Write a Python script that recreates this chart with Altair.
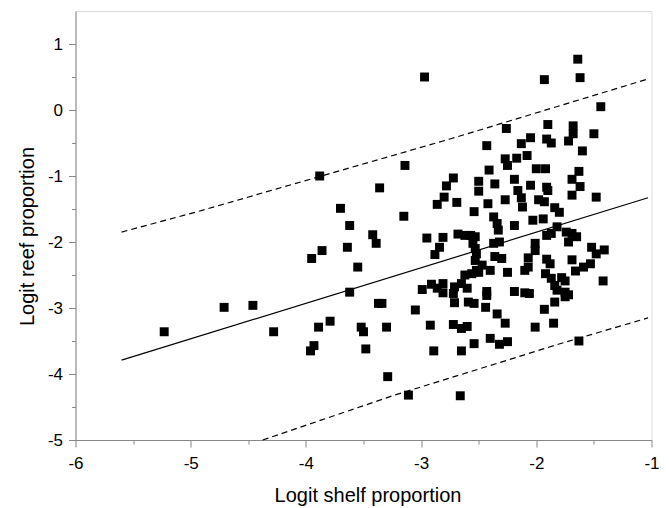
import altair as alt
import pandas as pd

# Scatter points (logit shelf proportion, logit reef proportion)
shelf = [
    -5.23, -4.71, -4.46, -4.28, -3.95, -3.86, -3.55, -3.62, -3.89, -3.79, -3.93, -3.96,
    -3.52, -3.50, -3.48, -3.37, -3.34, -3.30, -3.29, -3.11, -3.05, -2.99, -2.92, -2.89,
    -3.88, -3.36, -3.14, -3.70, -3.62, -3.15, -3.42, -3.39, -3.64, -2.95, -2.81, -2.84,
    -2.78, -2.80, -2.86, -2.97,
    -1.64, -1.62, -1.93, -1.44,
    -2.72, -2.50, -2.50, -2.69, -2.54, -2.68, -2.62, -2.57, -2.53, -2.55, -2.53, -2.52, -2.88,
    -2.26, -1.90, -2.43, -2.13, -2.05, -1.91, -1.87, -2.27, -2.25, -2.17, -2.08, -2.00, -1.92,
    -2.41, -2.36, -2.19, -2.16, -2.13, -2.05, -1.91, -1.90, -2.42, -2.27, -2.12, -1.98, -1.93,
    -1.84, -1.80, -2.37, -2.34, -2.33, -2.19, -2.03, -1.94, -1.91, -1.87, -1.82, -2.37, -2.32,
    -2.01, -2.01, -2.36, -2.30, -2.07, -1.91,
    -1.68, -1.68, -1.50, -1.72, -1.60, -1.63, -1.69, -1.62, -1.69, -1.48, -1.74, -1.69, -1.65,
    -1.72, -1.52, -1.48, -1.41, -1.69,
    -2.91, -2.86, -2.81, -2.81, -2.72, -2.71, -2.65, -2.62, -2.60, -2.56, -2.52, -2.53, -2.71,
    -2.59, -2.54, -2.72, -2.65, -2.60, -2.54, -2.65, -2.66,
    -2.47, -2.40, -2.50, -2.25, -2.07, -2.10, -1.88, -1.92, -1.87, -1.84, -1.82, -2.43, -2.43,
    -2.19, -2.10, -2.06, -2.44, -2.34, -2.27, -2.01, -1.93, -1.84, -1.85, -2.40, -2.32, -2.25,
    -1.59, -1.53, -1.66, -1.78, -1.75, -1.75, -1.72, -1.75, -1.42, -1.63,
]
reef = [
    -3.36, -2.99, -2.96, -3.36, -2.25, -2.13, -2.38, -2.76, -3.29, -3.20, -3.57, -3.65,
    -3.29, -3.36, -3.62, -2.93, -2.93, -3.29, -4.04, -4.32, -3.03, -2.72, -3.26, -3.65,
    -1.00, -1.18, -0.84, -1.49, -1.75, -1.61, -1.89, -2.02, -2.08, -1.94, -1.93, -2.08,
    -1.15, -1.32, -1.43, 0.50,
    0.77, 0.49, 0.46, 0.05,
    -1.03, -1.08, -1.23, -1.40, -1.54, -1.88, -1.90, -1.90, -1.92, -2.02, -2.10, -2.18, -2.19,
    -0.28, -0.22, -0.54, -0.51, -0.42, -0.44, -0.50, -0.74, -0.84, -0.73, -0.69, -0.89, -0.89,
    -0.91, -1.12, -1.05, -1.22, -1.33, -1.14, -1.17, -1.22, -1.42, -1.36, -1.47, -1.36, -1.39,
    -1.48, -1.55, -1.62, -1.72, -1.82, -1.75, -1.67, -1.65, -1.90, -1.87, -1.77, -2.02, -2.00,
    -2.02, -2.13, -2.22, -2.25, -2.24, -2.26,
    -0.24, -0.36, -0.36, -0.47, -0.62, -0.93, -1.05, -1.16, -1.29, -1.32, -1.85, -1.87, -1.92,
    -2.00, -2.08, -2.18, -2.12, -2.27,
    -2.64, -2.70, -2.63, -2.77, -2.78, -2.68, -2.63, -2.50, -2.70, -2.48, -2.43, -2.28, -2.92,
    -2.91, -2.93, -3.25, -3.31, -3.28, -3.54, -3.65, -4.33,
    -2.35, -2.43, -2.46, -2.46, -2.38, -2.43, -2.33, -2.48, -2.55, -2.66, -2.73, -2.75, -2.81,
    -2.75, -2.77, -2.78, -2.99, -3.09, -3.23, -3.29, -3.02, -2.91, -3.23, -3.46, -3.55, -3.51,
    -2.38, -2.33, -2.44, -2.54, -2.59, -2.76, -2.80, -2.83, -2.59, -3.50,
]

# Regression line and prediction band
fit_x = [-5.6, -1.03]
fit_y = [-3.79, -1.33]
upper_x = [-5.6, -4.92, -2.75, -1.03]
upper_y = [-1.85, -1.53, -0.44, 0.47]
lower_x = [-4.375, -3.23, -2.49, -1.81, -1.03]
lower_y = [-5.0, -4.32, -3.92, -3.55, -3.15]

x_ticks = [-6, -5.5, -5, -4.5, -4, -3.5, -3, -2.5, -2, -1.5, -1]
y_ticks = [-5, -4.5, -4, -3.5, -3, -2.5, -2, -1.5, -1, -0.5, 0, 0.5, 1]

pts = pd.DataFrame({"x": shelf, "y": reef})
fit = pd.DataFrame({"x": fit_x, "y": fit_y})
band = pd.DataFrame({
    "x": upper_x + lower_x,
    "y": upper_y + lower_y,
    "s": ["upper"] * len(upper_x) + ["lower"] * len(lower_x),
})

FONT = "Liberation Sans"
tick_size = {"condition": {"test": "datum.value % 1 !== 0", "value": 4}, "value": 7}
label_expr = "datum.value % 1 === 0 ? '' + datum.value : ''"

xaxis = alt.Axis(
    title="Logit shelf proportion", values=x_ticks, labelExpr=label_expr,
    tickSize=tick_size, grid=False, labelPadding=8, labelFontSize=17,
    titleFontSize=20, titleFontWeight="normal", titleBaseline="alphabetic",
    titleY=61.5, titleX=292, labelFlush=False,
)
yaxis = alt.Axis(
    title="Logit reef proportion", values=y_ticks, labelExpr=label_expr,
    tickSize=tick_size, grid=False, labelPadding=6, labelFontSize=17,
    titleFontSize=20, titleFontWeight="normal", titleBaseline="alphabetic",
    titleX=-42, titleY=225, titleAngle=270, labelFlush=False,
)
xs = alt.Scale(domain=[-6, -1], nice=False, zero=False)
ys = alt.Scale(domain=[-5, 1.5], nice=False, zero=False)

points = alt.Chart(pts).mark_point(shape="square", filled=True, color="black", size=80, opacity=1).encode(
    x=alt.X("x:Q", scale=xs, axis=xaxis),
    y=alt.Y("y:Q", scale=ys, axis=yaxis),
)
fit_line = alt.Chart(fit).mark_line(color="black", strokeWidth=1.2).encode(
    x=alt.X("x:Q", scale=xs, axis=xaxis),
    y=alt.Y("y:Q", scale=ys, axis=yaxis),
)
band_lines = alt.Chart(band).mark_line(color="black", strokeWidth=1.2, strokeDash=[6, 4]).encode(
    x=alt.X("x:Q", scale=xs, axis=xaxis),
    y=alt.Y("y:Q", scale=ys, axis=yaxis),
    detail="s:N",
)

chart = alt.layer(band_lines, fit_line, points).properties(
    width=576, height=429,
    autosize=alt.AutoSizeParams(type="none"),
    padding={"left": 75.5, "top": 11, "right": 17.5, "bottom": 68},
).configure_view(stroke=None).configure_axis(
    labelFont=FONT, titleFont=FONT, labelColor="black", titleColor="black",
    domainColor="black", tickColor="black", domainWidth=1.6, tickWidth=1.6,
).configure(background="white")

chart.save("out.html", embed_options={"renderer": "svg", "actions": False})
